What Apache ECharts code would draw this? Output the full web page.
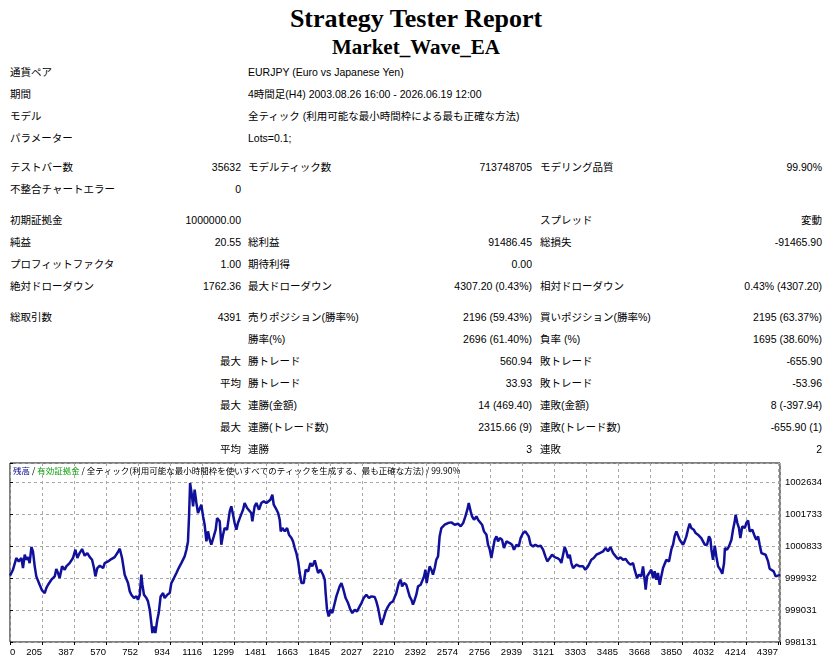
<!DOCTYPE html>
<html>
<head>
<meta charset="utf-8">
<script src="https://cdn.jsdelivr.net/npm/echarts@6/dist/echarts.min.js"></script>
<style>
  html, body { margin: 0; padding: 0; background: #fff; }
  #page { position: relative; width: 832px; height: 664px; overflow: hidden; }
  .ttl { position: absolute; left: 0; width: 832px; text-align: center;
         font-family: "Liberation Serif", serif; font-weight: bold; color: #000; }
  .cell { position: absolute; white-space: nowrap; line-height: 14px; height: 14px;
          font-family: "Liberation Sans", "Noto Sans CJK JP", sans-serif; font-size: 10.5px; color: #000; }
  #visualisation { position: absolute; left: 0; top: 455px; width: 832px; height: 209px; }
</style>
</head>
<body>
<div id="page">
  <div class="ttl" style="top:4px;font-size:26px;line-height:30px;">Strategy Tester Report</div>
  <div class="ttl" style="top:34px;font-size:21px;line-height:26px;">Market_Wave_EA</div>
  <div id="visualisation"></div>
</div>
<script>
// x-as: transactienummer, y-as: saldo
const xLabels = ['0', '205', '387', '570', '752', '934', '1116', '1299', '1481', '1663', '1845', '2027',
    '2210', '2392', '2574', '2756', '2939', '3121', '3303', '3485', '3668', '3850', '4032', '4214', '4397'];
const yLabels = ['998131', '999031', '999932', '1000833', '1001733', '1002634'];

const tradeNo = [
    0, 17, 36, 50, 65, 74, 84, 93, 103, 112, 122, 131, 141, 150, 169, 183, 198, 207, 217, 236,
    255, 264, 274, 283, 297, 312, 321, 340, 359, 373, 384, 397, 411, 426, 441, 455, 468, 479, 487, 498,
    512, 531, 540, 559, 578, 597, 612, 626, 639, 654, 673, 683, 692, 707, 721, 730, 740, 749, 755, 764,
    778, 787, 797, 806, 812, 821, 829, 840, 848, 859, 873, 882, 897, 911, 920, 935, 949, 962, 977, 987,
    996, 1006, 1015, 1021, 1027, 1038, 1044, 1053, 1063, 1072,
    1091, 1101, 1110, 1120, 1129, 1139, 1148, 1162, 1173, 1181, 1196, 1205, 1215, 1224, 1238, 1253, 1262, 1272, 1281, 1291,
    1300, 1314, 1329, 1338, 1352, 1363, 1376, 1382, 1395, 1405, 1420, 1433, 1447, 1462, 1472, 1485, 1496, 1504, 1515, 1529,
    1538, 1544, 1553, 1567, 1580, 1591, 1605, 1614, 1624, 1633, 1643, 1652, 1662, 1675, 1686, 1700, 1713, 1724, 1738, 1747,
    1757, 1770, 1785, 1795, 1800, 1808, 1817, 1827, 1838, 1852, 1861, 1871, 1880, 1890, 1899, 1914, 1928, 1941, 1952, 1966,
    1979, 1994, 2004, 2017, 2032, 2047, 2061, 2080, 2089, 2099, 2108, 2118, 2131, 2142, 2156, 2169, 2184,
    2194, 2203, 2217, 2228, 2236, 2247, 2260, 2270, 2279, 2289, 2298, 2308, 2317, 2327, 2342, 2350, 2361, 2369, 2376, 2384,
    2393, 2403, 2412, 2422, 2431, 2441, 2450, 2460, 2469, 2479, 2498, 2517, 2536, 2555, 2570, 2584, 2597, 2608, 2616, 2627,
    2635, 2646, 2660, 2669, 2679, 2692, 2703, 2717, 2726, 2736, 2745, 2755, 2764, 2774, 2783, 2793, 2806, 2817, 2831, 2840,
    2850, 2863, 2874, 2888, 2901, 2912, 2926, 2939, 2950, 2958, 2969, 2983, 2996, 3011, 3026, 3040, 3053, 3064, 3078, 3091,
    3106, 3121, 3135, 3144, 3154, 3163, 3173, 3182, 3192, 3201, 3211, 3220, 3230, 3249, 3268, 3281, 3296,
    3306, 3315, 3329, 3344, 3363, 3382, 3397, 3410, 3424, 3439, 3454, 3467, 3481, 3496, 3511, 3524, 3538, 3553, 3562, 3576,
    3587, 3600, 3610, 3619, 3625, 3633, 3644, 3657, 3667, 3676, 3686, 3695, 3705, 3714, 3724, 3733, 3743, 3758, 3771, 3781,
    3790, 3800, 3809, 3819, 3828, 3838, 3847, 3857, 3866, 3876, 3885, 3899, 3910, 3923, 3933, 3942, 3952, 3962, 3975, 3986,
    3994, 4000, 4009, 4019, 4028, 4038, 4051, 4062, 4072, 4077, 4089, 4100, 4114, 4123, 4133, 4138, 4148, 4157, 4165, 4176,
    4190, 4199, 4209, 4218, 4233, 4247, 4256, 4266, 4275, 4285, 4294, 4309, 4323, 4332, 4342, 4355, 4366, 4374, 4391
];

const balance = [
    1000000, 1000166, 1000494, 1000400, 1000494, 1000213, 1000588, 1000447, 1000522, 1000353, 1000804, 1000682, 1000260, 999978, 999743, 999584, 999509, 999650, 999743, 999884,
    999978, 1000185, 1000072, 999931, 1000260, 1000166, 1000260, 1000353, 1000494, 1000729, 1000494, 1000635, 1000748, 1000560, 1000635, 1000522, 1000447, 1000213, 999978, 1000213,
    1000278, 1000213, 1000353, 1000400, 1000466, 1000522, 1000635, 1000757, 1000494, 1000025, 999790, 999556, 999462, 999368, 999415, 999321, 999462, 1000025, 999743, 999462,
    999368, 999274, 999040, 998664, 998383, 998570, 998383, 998758, 998946, 999415, 999509, 999368, 999462, 999509, 999790, 999931, 1000072, 1000213, 1000353, 1000400,
    1000541, 1000729, 1000963, 1001667, 1002606, 1002230, 1001949, 1002418, 1002043, 1001761,
    1001996, 1001667, 1001433, 1000963, 1001245, 1001010, 1000870, 1001104, 1001292, 1001620, 1001527, 1000870, 1001151, 1001339, 1001292, 1001808, 1001949, 1001714, 1001480, 1001292,
    1001480, 1001667, 1001855, 1002043, 1001902, 1001949, 1001761, 1001527, 1001949, 1002043, 1001855, 1002043, 1002090, 1002043, 1002090, 1002136, 1002277, 1001996, 1001902, 1001761,
    1001573, 1001245, 1001339, 1001245, 1001339, 1001151, 1001057, 1000963, 1000776, 1000635, 1000400, 1000072, 999790, 999790, 1000166, 1000119, 1000353, 1000260, 1000429, 1000260,
    1000072, 1000166, 1000025, 999884, 999509, 999040, 998852, 999040, 998946, 999227, 999415, 999462, 999697, 999790, 999650, 999368, 999227, 999040, 998946, 999040,
    998993, 999134, 999227, 999368, 999462, 999368, 999415, 999396, 999274, 999087, 998852, 998617, 998805, 998993, 999134, 999227, 999274,
    999274, 999509, 999790, 999884, 999697, 999790, 999743, 999790, 999415, 999321, 999181, 999321, 999462, 999697, 999743, 999790, 999978, 1000166, 999790, 1000025,
    1000260, 1000166, 1000025, 1000213, 1000447, 1000541, 1001104, 1001339, 1001292, 1001433, 1001480, 1001498, 1001433, 1001461, 1001386, 1001480, 1001667, 1001855, 1002043, 1001808,
    1001667, 1001573, 1001667, 1001573, 1001527, 1001433, 1001245, 1001151, 1000870, 1000729, 1000494, 1000776, 1001010, 1001104, 1000963, 1001057, 1001010, 1000776, 1000963, 1001010,
    1000917, 1000870, 1000729, 1000870, 1000823, 1001057, 1001198, 1001245, 1001198, 1001104, 1000870, 1000823, 1000870, 1000823, 1000841, 1000729, 1000541, 1000400, 1000494, 1000588,
    1000522, 1000494, 1000447, 1000353, 1000588, 1000804, 1000682, 1000494, 1000588, 1000353, 1000213, 1000166, 1000307, 1000260, 1000260, 1000166, 1000260,
    1000307, 1000447, 1000494, 1000588, 1000635, 1000682, 1000776, 1000682, 1000804, 1000635, 1000541, 1000466, 1000513, 1000447, 1000466, 1000372, 1000307, 1000353, 1000166, 999931,
    1000025, 999978, 1000260, 999884, 999603, 999978, 1000025, 1000166, 999931, 1000119, 999884, 1000072, 999743, 999978, 1000213, 1000260, 1000447, 1000400, 1000729, 1000870,
    1001104, 1001245, 1001292, 1001010, 1001010, 1000870, 1000963, 1001104, 1001292, 1001461, 1001339, 1001292, 1001198, 1001151, 1001198, 1001057, 1001010, 1000870, 1000870, 1001104,
    1001029, 1000729, 1000447, 1000841, 1000541, 1000260, 1000166, 1000053, 1000353, 1000776, 1000729, 1000823, 1001010, 1001292, 1001527, 1001714, 1001480, 1001339, 1001057, 1001386,
    1001339, 1001480, 1001555, 1001245, 1001292, 1001104, 1001010, 1001104, 1000870, 1000635, 1000588, 1000588, 1000400, 1000194, 1000166, 1000119, 999978, 1000025, 1000021
];

// rapporttabel: [y, [kolom, tekst], ...]
const reportRows = [
    [72, [0, '通貨ペア'], [2, 'EURJPY (Euro vs Japanese Yen)']],
    [94, [0, '期間'], [2, '4時間足(H4) 2003.08.26 16:00 - 2026.06.19 12:00']],
    [116, [0, 'モデル'], [2, '全ティック (利用可能な最小時間枠による最も正確な方法)']],
    [138, [0, 'パラメーター'], [2, 'Lots=0.1;']],
    [167, [0, 'テストバー数'], [1, '35632'], [2, 'モデルティック数'], [3, '713748705'], [4, 'モデリング品質'], [5, '99.90%']],
    [189, [0, '不整合チャートエラー'], [1, '0']],
    [220, [0, '初期証拠金'], [1, '1000000.00'], [4, 'スプレッド'], [5, '変動']],
    [242, [0, '純益'], [1, '20.55'], [2, '総利益'], [3, '91486.45'], [4, '総損失'], [5, '-91465.90']],
    [264, [0, 'プロフィットファクタ'], [1, '1.00'], [2, '期待利得'], [3, '0.00']],
    [286, [0, '絶対ドローダウン'], [1, '1762.36'], [2, '最大ドローダウン'], [3, '4307.20 (0.43%)'], [4, '相対ドローダウン'], [5, '0.43% (4307.20)']],
    [317, [0, '総取引数'], [1, '4391'], [2, '売りポジション(勝率%)'], [3, '2196 (59.43%)'], [4, '買いポジション(勝率%)'], [5, '2195 (63.37%)']],
    [339, [2, '勝率(%)'], [3, '2696 (61.40%)'], [4, '負率 (%)'], [5, '1695 (38.60%)']],
    [361, [1, '最大'], [2, '勝トレード'], [3, '560.94'], [4, '敗トレード'], [5, '-655.90']],
    [383, [1, '平均'], [2, '勝トレード'], [3, '33.93'], [4, '敗トレード'], [5, '-53.96']],
    [405, [1, '最大'], [2, '連勝(金額)'], [3, '14 (469.40)'], [4, '連敗(金額)'], [5, '8 (-397.94)']],
    [427, [1, '最大'], [2, '連勝(トレード数)'], [3, '2315.66 (9)'], [4, '連敗(トレード数)'], [5, '-655.90 (1)']],
    [449, [1, '平均'], [2, '連勝'], [3, '3'], [4, '連敗'], [5, '2']]
];
const columnX = [[10, 'left'], [241, 'right'], [248, 'left'], [532, 'right'], [540, 'left'], [822, 'right']];

function drawReport() {
    const page = document.getElementById('page');
    reportRows.forEach(row => {
        const y = row[0];
        row.slice(1).forEach(([col, text]) => {
            const [x, align] = columnX[col];
            const el = document.createElement('div');
            el.className = 'cell';
            el.textContent = text;
            el.style.top = (y - 7) + 'px';
            if (align === 'left') el.style.left = x + 'px';
            else el.style.right = (832 - x) + 'px';
            page.appendChild(el);
        });
    });
}

function drawVisualisation() {
    let visualisation = echarts.init(document.getElementById('visualisation'));

    const xStep = 182.48;
    const yMin = 998131;
    const yStep = 900.84;

    let option = {
        animation: false,
        title: {
            left: 13, top: 12, padding: 0,
            text: '{b|残高} / {g|有効証拠金} / 全ティック(利用可能な最小時間枠を使いすべてのティックを生成する、最も正確な方法) / 99.90%',
            textStyle: {
                fontSize: 8.5, fontWeight: 'normal', color: '#000',
                fontFamily: '"Noto Sans CJK JP", "Liberation Sans", sans-serif',
                rich: {
                    b: { fontSize: 8.5, color: '#00008c', fontFamily: '"Noto Sans CJK JP", sans-serif' },
                    g: { fontSize: 8.5, color: '#10a010', fontFamily: '"Noto Sans CJK JP", sans-serif' }
                }
            }
        },
        grid: {
            left: 10, right: 52, top: 8, bottom: 22,
            show: true, borderColor: '#000', borderWidth: 1
        },
        xAxis: {
            type: 'value',
            min: 0, max: 4391, interval: xStep,
            axisLine: { show: false },
            axisTick: { show: true, length: 3, lineStyle: { color: '#000' } },
            splitLine: { show: true, lineStyle: { color: '#a8a8a8', width: 1, type: [3, 3] } },
            axisLabel: {
                margin: 5, fontSize: 9.5, color: '#000', align: 'right', alignMinLabel: 'left',
                fontFamily: '"Liberation Sans", sans-serif',
                formatter: v => {
                    const i = Math.round(v / xStep);
                    return (Math.abs(v - i * xStep) < 0.5 && xLabels[i]) ? xLabels[i] : '';
                }
            }
        },
        yAxis: {
            type: 'value', position: 'right',
            min: yMin, max: 1003170, interval: yStep,
            axisLine: { show: false },
            axisTick: { show: true, length: 3, lineStyle: { color: '#000' } },
            splitLine: { show: true, lineStyle: { color: '#a8a8a8', width: 1, type: [3, 3] } },
            axisLabel: {
                margin: 5, fontSize: 9.5, color: '#000',
                fontFamily: '"Liberation Sans", sans-serif',
                formatter: v => {
                    const i = Math.round((v - yMin) / yStep);
                    return (Math.abs(v - yMin - i * yStep) < 0.5 && yLabels[i]) ? yLabels[i] : '';
                }
            }
        },
        series: [{
            type: 'line',
            data: tradeNo.map((t, i) => [t, balance[i]]),
            showSymbol: false,
            lineStyle: { color: '#10109a', width: 2.5 },
            silent: true
        }]
    };

    visualisation.setOption(option);
}

window.addEventListener('load', () => {
    drawReport();
    drawVisualisation();
});
</script>
</body>
</html>
